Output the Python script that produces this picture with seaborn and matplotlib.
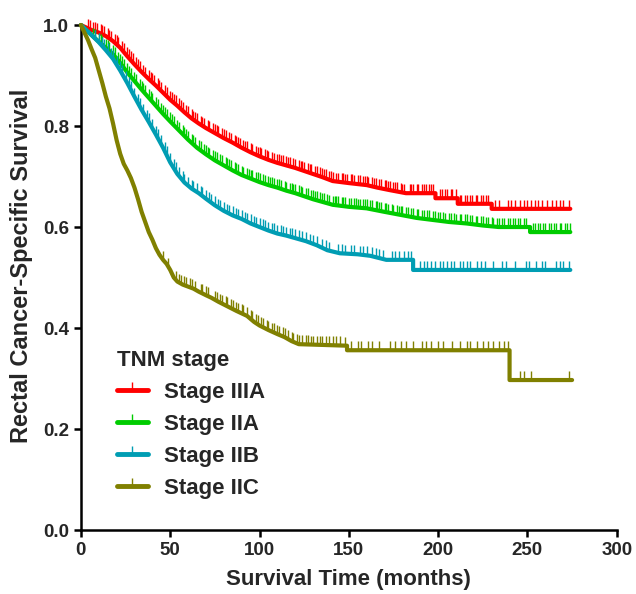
import numpy as np
import pandas as pd
import matplotlib
matplotlib.use("Agg")
import matplotlib.pyplot as plt
from matplotlib.path import Path
from matplotlib.lines import Line2D
import seaborn as sns

stages = ["Stage IIIA", "Stage IIA", "Stage IIB", "Stage IIC"]
colors = ["#FF0000", "#00CC00", "#009DB3", "#808000"]

# survival curves (months, survival probability)
# a repeated time marks a vertical drop
iiia_time = [0, 3, 6, 10, 14, 18, 22, 26, 30, 34, 38, 42, 46, 50, 54, 58, 62, 66, 70,
             75, 80, 85, 90, 95, 100, 105, 110, 115, 120, 125, 130, 135, 141, 150,
             160, 166, 173, 182, 198.5, 198.5, 211, 211, 230, 230, 274]
iiia_surv = [1.0, 0.995, 0.99, 0.985, 0.978, 0.968, 0.955, 0.938, 0.922, 0.907, 0.893,
             0.88, 0.866, 0.852, 0.84, 0.827, 0.815, 0.805, 0.796, 0.786, 0.776, 0.767,
             0.757, 0.748, 0.74, 0.733, 0.727, 0.722, 0.717, 0.711, 0.705, 0.699, 0.691,
             0.687, 0.683, 0.678, 0.673, 0.667, 0.667, 0.657, 0.657, 0.646, 0.646, 0.636,
             0.636]
iiia_censor = [4, 5, 7, 8, 9, 11, 12, 13, 15, 16, 17, 19, 20, 21, 23, 24, 26, 27, 28, 29,
               31, 32, 33, 35, 36, 38, 39, 40, 41, 43, 44, 45, 47, 48, 50, 51, 52, 53,
               55, 56, 57, 59, 60, 62, 63, 64, 65, 67, 68, 69, 71, 72, 74, 75, 76, 77,
               79, 80, 81, 83, 84, 86, 87, 88, 89, 91, 92, 93, 95, 96, 98, 99, 100, 101,
               103, 104, 105, 107, 108, 110, 111, 112, 113, 115, 116, 117, 119, 120, 122,
               123, 124, 125, 127, 128, 129, 131, 132, 134, 135, 136, 137, 139, 140, 141,
               143, 144, 146, 147, 148, 149, 151, 152, 153, 155, 156, 158, 159, 160, 161,
               163, 164, 165, 167, 168, 170, 171, 172, 173, 175, 176, 177, 179, 180, 181,
               184, 185, 186, 188, 189, 191, 192, 193, 195, 196, 197, 201, 202, 204, 205,
               207, 208, 210, 212, 213, 215, 216, 218, 219, 221, 222, 224, 225, 227, 228,
               232, 234, 239, 241, 243, 246, 248, 250, 252, 254, 256, 258, 261, 264, 266,
               268, 270, 273]

iia_time = [0, 3, 6, 10, 14, 18, 22, 26, 30, 34, 38, 42, 46, 50, 55, 60, 65, 70, 75, 80,
            85, 90, 95, 100, 105, 110, 115, 120, 130, 141, 150, 160, 170, 179, 188, 197,
            206, 216, 225, 234, 251.5, 251.5, 274]
iia_surv = [1.0, 0.99, 0.98, 0.967, 0.955, 0.942, 0.925, 0.906, 0.889, 0.872, 0.856,
            0.84, 0.824, 0.809, 0.791, 0.773, 0.757, 0.744, 0.732, 0.722, 0.712, 0.703,
            0.696, 0.689, 0.683, 0.678, 0.672, 0.667, 0.655, 0.644, 0.64, 0.637, 0.63,
            0.624, 0.618, 0.614, 0.61, 0.607, 0.603, 0.6, 0.6, 0.59, 0.59]
iia_censor = [7, 8, 10, 11, 12, 14, 15, 16, 18, 19, 21, 22, 23, 24, 26, 27, 28, 30, 31,
              33, 34, 35, 36, 38, 39, 40, 42, 43, 45, 46, 47, 48, 50, 51, 52, 54, 55, 57,
              58, 59, 60, 62, 63, 64, 66, 67, 69, 70, 71, 72, 74, 75, 76, 78, 79, 81, 82,
              83, 84, 86, 87, 88, 90, 91, 93, 94, 95, 96, 98, 99, 100, 102, 103, 105,
              106, 107, 108, 110, 111, 112, 114, 115, 117, 118, 119, 120, 122, 123, 124,
              126, 127, 129, 130, 131, 132, 134, 135, 136, 138, 139, 141, 142, 143, 144,
              146, 147, 148, 150, 151, 153, 154, 155, 156, 158, 159, 160, 162, 163, 165,
              166, 167, 168, 170, 171, 172, 174, 175, 177, 178, 179, 180, 182, 183, 185,
              186, 188, 189, 191, 192, 194, 195, 197, 198, 200, 201, 203, 204, 206, 207,
              209, 210, 212, 213, 215, 216, 218, 219, 221, 222, 224, 225, 227, 228, 230,
              231, 233, 234, 236, 237, 239, 240, 242, 243, 245, 246, 248, 249, 253, 254,
              256, 257, 259, 260, 262, 263, 265, 266, 268, 269, 271, 272, 274]

iib_time = [0, 3, 6, 10, 14, 18, 22, 26, 30, 34, 38, 42, 46, 50, 54, 58, 62, 66, 70, 75,
            80, 85, 90, 95, 100, 105, 110, 115, 120, 126, 132, 138, 145, 155, 162, 171,
            186, 186, 274]
iib_surv = [1.0, 0.99, 0.98, 0.966, 0.95, 0.933, 0.91, 0.885, 0.858, 0.832, 0.808, 0.783,
            0.757, 0.728, 0.705, 0.688, 0.676, 0.667, 0.656, 0.643, 0.632, 0.623, 0.616,
            0.607, 0.6, 0.593, 0.587, 0.583, 0.578, 0.572, 0.564, 0.554, 0.548, 0.546,
            0.543, 0.535, 0.535, 0.515, 0.515]
iib_censor = [8, 10, 12, 13, 15, 17, 18, 20, 22, 23, 25, 27, 28, 30, 32, 33, 35, 37, 38,
              40, 42, 43, 45, 47, 48, 50, 52, 53, 55, 57, 58, 60, 62, 63, 65, 67, 68, 70,
              72, 73, 75, 77, 78, 80, 82, 83, 85, 87, 88, 90, 92, 93, 95, 97, 98, 100,
              102, 103, 105, 107, 108, 110, 112, 113, 115, 117, 118, 120, 122, 124, 126,
              128, 130, 132, 135, 137, 139, 144, 146, 148, 151, 153, 156, 158, 160, 163,
              165, 167, 169, 174, 176, 178, 181, 183, 185, 190, 192, 194, 196, 198, 201,
              203, 205, 207, 209, 212, 214, 216, 218, 222, 224, 226, 231, 236, 238, 243,
              249, 251, 255, 258, 260, 266, 268, 270, 273]

iic_time = [0, 2, 4, 6, 8, 10, 12, 14, 16, 18, 20, 22, 24, 26, 28, 30, 32, 34, 36, 38, 40,
            42, 44, 46, 48, 50, 52, 54, 57, 60, 63, 66, 70, 73, 77, 82, 87, 93, 97, 100,
            105, 110, 114, 118, 122, 149, 149, 240, 240, 275]
iic_surv = [1.0, 0.985, 0.97, 0.952, 0.935, 0.91, 0.885, 0.858, 0.835, 0.805, 0.772,
            0.745, 0.725, 0.712, 0.697, 0.678, 0.655, 0.63, 0.61, 0.59, 0.575, 0.558, 0.545,
            0.535, 0.527, 0.515, 0.5, 0.492, 0.486, 0.482, 0.478, 0.472, 0.465, 0.46,
            0.452, 0.443, 0.434, 0.424, 0.412, 0.405, 0.396, 0.388, 0.382, 0.374, 0.368,
            0.365, 0.356, 0.356, 0.297, 0.297]
iic_censor = [46, 49, 53, 55, 56, 58, 59, 61, 62, 64, 67, 68, 70, 71, 75, 76, 78, 79, 81,
              82, 84, 85, 87, 88, 90, 91, 93, 95, 96, 98, 99, 101, 102, 104, 105, 107,
              108, 110, 111, 113, 114, 116, 118, 119, 121, 122, 124, 126, 127, 129, 130,
              132, 134, 135, 137, 139, 141, 143, 145, 148, 151, 155, 157, 161, 163, 167,
              173, 176, 179, 182, 186, 191, 193, 196, 200, 203, 208, 212, 216, 218, 222,
              225, 228, 231, 234, 237, 239, 246, 248, 252, 273]

series = [
    (iiia_time, iiia_surv, iiia_censor),
    (iia_time, iia_surv, iia_censor),
    (iib_time, iib_surv, iib_censor),
    (iic_time, iic_surv, iic_censor),
]

sns.set_style("ticks")
plt.rcParams["font.family"] = ["Liberation Sans", "DejaVu Sans"]
plt.rcParams["font.weight"] = "bold"

fig = plt.figure(figsize=(6.36, 5.94), dpi=100)
ax = fig.add_axes([0.1272, 0.1077, 0.8425, 0.8502])

# censor mark: short vertical tick pointing up from the curve
tick_up = Path([(0, 0), (0, 1)], [Path.MOVETO, Path.LINETO])

for (t, s, c), col in zip(series, colors):
    df = pd.DataFrame({"time": t, "surv": s})
    sns.lineplot(data=df, x="time", y="surv", color=col, lw=3, estimator=None,
                 sort=False, ax=ax, legend=False, clip_on=False, zorder=3)
    cdf = pd.DataFrame({"time": c, "surv": np.interp(c, t, s)})
    sns.scatterplot(data=cdf, x="time", y="surv", marker=tick_up, s=150, color=col,
                    edgecolor=col, linewidth=1.0, ax=ax, legend=False, clip_on=False,
                    zorder=3)

ax.set_xlim(0, 300)
ax.set_ylim(0, 1.0)
ax.set_xticks([0, 50, 100, 150, 200, 250, 300])
ax.set_yticks([0.0, 0.2, 0.4, 0.6, 0.8, 1.0])
ax.set_yticklabels(["0.0", "0.2", "0.4", "0.6", "0.8", "1.0"])
ax.tick_params(labelsize=13.5, width=1.8, length=5, color="black")
for lab in ax.get_xticklabels() + ax.get_yticklabels():
    lab.set_fontweight("bold")
sns.despine(ax=ax)
for sp in ["left", "bottom"]:
    ax.spines[sp].set_linewidth(1.8)
    ax.spines[sp].set_color("black")

ax.set_xlabel("Survival Time (months)", fontsize=16, fontweight="bold", labelpad=7)
ax.set_ylabel("Rectal Cancer-Specific Survival", fontsize=17, fontweight="bold")
ax.yaxis.set_label_coords(-0.09, 0.523)

handles = [Line2D([0], [0], color=col, lw=3.5, marker=tick_up, markersize=12,
                  markeredgewidth=1.0, markeredgecolor=col) for col in colors]
leg = ax.legend(handles, stages, loc="upper left", bbox_to_anchor=(0.05, 0.375),
                frameon=False, title="TNM stage", fontsize=16, handlelength=1.4,
                handletextpad=0.75, labelspacing=0.5, borderaxespad=0,
                title_fontproperties={"size": 16, "weight": "bold"}, alignment="left")

fig.savefig("out.png", dpi=100)
